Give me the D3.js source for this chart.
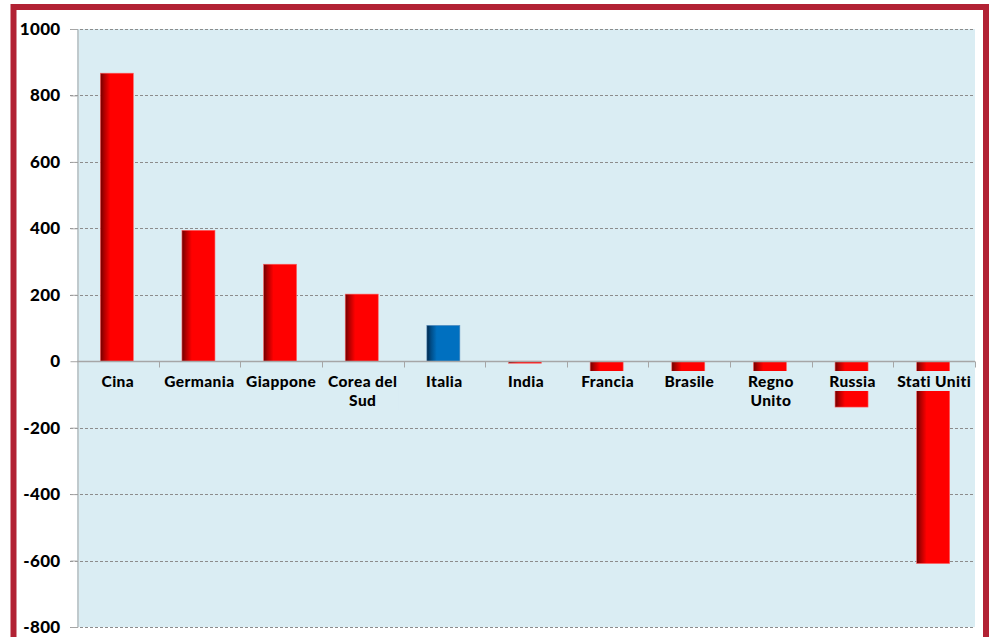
<!DOCTYPE html>
<html><head><meta charset="utf-8">
<script src="https://cdn.jsdelivr.net/npm/d3@7"></script>
<style>body{margin:0;background:#fff}svg{display:block}</style>
</head><body>
<svg id="c" width="989" height="637"></svg>
<script>
const categories = ["Cina","Germania","Giappone","Corea del Sud","Italia","India","Francia","Brasile","Regno Unito","Russia","Stati Uniti"];
const values = [867, 394, 292, 202, 108, -6, -32, -32, -32, -138, -609];
const highlight = ["Italia"];
const yTicks = [-800,-600,-400,-200,0,200,400,600,800,1000];

const svg = d3.select("#c");
const L = 77, R = 975, T = 29, B = 627;
const x = d3.scaleBand().domain(categories).range([L, R]);
const y = d3.scaleLinear().domain([-800, 1000]).range([B, T]);

const defs = svg.append("defs");
function grad(id, dark, mid, main){
  const g = defs.append("linearGradient").attr("id", id).attr("x1","0").attr("x2","1").attr("y1","0").attr("y2","0");
  g.append("stop").attr("offset","0").attr("stop-color",dark);
  g.append("stop").attr("offset","0.12").attr("stop-color",mid);
  g.append("stop").attr("offset","0.3").attr("stop-color",main);
  g.append("stop").attr("offset","1").attr("stop-color",main);
}
grad("gr","#6e0000","#b00000","#ff0000");
grad("gb","#00284a","#004b85","#0070c0");

// outer border
svg.append("rect").attr("x",13.5).attr("y",7).attr("width",972.5).attr("height",660)
  .attr("fill","#fff").attr("stroke","#b22234").attr("stroke-width",6);

// plot area
svg.append("rect").attr("x",L).attr("y",T).attr("width",R-L).attr("height",B-T).attr("fill","#daedf3");

// grid
const fontF = "Lato, 'Open Sans', sans-serif";
svg.append("g").selectAll("line").data(yTicks.filter(d=>d!==0)).join("line")
  .attr("x1",70).attr("x2",R).attr("y1",d=>Math.round(y(d))+0.5).attr("y2",d=>Math.round(y(d))+0.5)
  .attr("stroke","#8c8c8c").attr("stroke-width",1).attr("stroke-dasharray","3,2");

// y axis
const yAxis = d3.axisLeft(y).tickValues(yTicks).tickSize(7).tickPadding(10).tickFormat(d=>String(d));
const ga = svg.append("g").attr("transform",`translate(${L+0.5},0)`).call(yAxis);
ga.select(".domain").attr("stroke","#a6a6a6");
ga.selectAll(".tick line").attr("stroke","#a6a6a6");
ga.selectAll(".tick text").attr("font-family",fontF).attr("font-weight","900").attr("font-size",17)
  .attr("letter-spacing","0.3").attr("fill","#000");

// bars
const bw = 33;
svg.append("g").selectAll("rect").data(categories).join("rect")
  .attr("x",d=>x(d)+x.bandwidth()/2-bw/2-1)
  .attr("width",bw)
  .attr("y",(d,i)=>y(Math.max(0,values[i])))
  .attr("height",(d,i)=>Math.abs(y(values[i])-y(0)))
  .attr("fill",d=>highlight.includes(d)?"url(#gb)":"url(#gr)")
  .attr("stroke",d=>highlight.includes(d)?"#5a8fbf":"#ff6060").attr("stroke-width",0.6);

// x axis line + ticks
const z = Math.round(y(0))+0.5;
svg.append("line").attr("x1",L).attr("x2",R).attr("y1",z).attr("y2",z).attr("stroke","#a6a6a6").attr("stroke-width",1.5);
svg.append("g").selectAll("line").data(categories.slice(1).map(d=>x(d)).concat([R])).join("line")
  .attr("x1",d=>Math.round(d)+0.5).attr("x2",d=>Math.round(d)+0.5).attr("y1",z).attr("y2",z+6).attr("stroke","#a6a6a6");

// category labels
const lg = svg.append("g");
categories.forEach(c=>{
  let lines = [c];
  if (c === "Corea del Sud") lines = ["Corea del","Sud"];
  if (c === "Regno Unito") lines = ["Regno","Unito"];
  const cx = x(c)+x.bandwidth()/2;
  const g = lg.append("g");
  const bg = g.append("rect").attr("fill","#daedf3");
  const t = g.append("text").attr("text-anchor","middle").attr("font-family",fontF)
    .attr("font-weight","900").attr("font-size",15.5).attr("letter-spacing","0.4").attr("fill","#000");
  lines.forEach((ln,i)=>{
    t.append("tspan").attr("x",cx).attr("y",387+i*19).text(ln);
  });
  const bb = t.node().getBBox();
  bg.attr("x",bb.x-1).attr("y",bb.y-1).attr("width",bb.width+2).attr("height",bb.height+2);
});
</script>
</body></html>
